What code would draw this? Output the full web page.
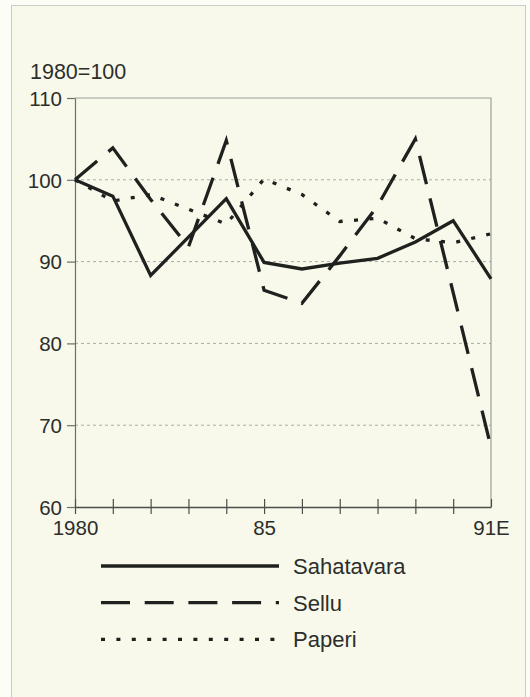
<!DOCTYPE html>
<html>
<head>
<meta charset="utf-8">
<script src="https://cdn.jsdelivr.net/npm/d3@7"></script>
<style>
  body { margin: 0; background: #fcfdf7; }
  svg { display: block; font-family: "Liberation Sans", Arial, sans-serif; }
  .tick text { fill: #2c2e2c; }
</style>
</head>
<body>
<div id="chart"></div>
<script>
let years = [1980, 1981, 1982, 1983, 1984, 1985, 1986, 1987, 1988, 1989, 1990, 1991];
let sahatavara = [100, 98.0, 88.3, 93.0, 97.7, 89.9, 89.1, 89.8, 90.4, 92.4, 95.0, 87.9];
let sellu = [100, 103.9, 97.6, 91.8, 104.8, 86.5, 84.9, 90.7, 96.8, 105.0, 86.2, 67.3];
let paperi = [100, 97.4, 98.2, 96.4, 94.6, 100.1, 98.2, 94.9, 95.3, 92.8, 92.3, 93.4];
let yTicks = [60, 70, 80, 90, 100, 110];
let xLabels = { 1980: "1980", 1985: "85", 1991: "91E" };
let seriesNames = ["Sahatavara", "Sellu", "Paperi"];

let width = 530, height = 697;
let margin = { left: 75, right: 39, top: 98, bottom: 190 };

let svg = d3
  .select("#chart")
  .append("svg")
  .attr("width", width)
  .attr("height", height);

// paper frame
svg
  .append("rect")
  .attr("x", 11.5)
  .attr("y", 5.5)
  .attr("width", 514)
  .attr("height", 700)
  .attr("fill", "#f8f9eb")
  .attr("stroke", "#c9cdc5");

let x = d3
  .scaleLinear()
  .domain([1980, 1991])
  .range([margin.left, width - margin.right]);
let y = d3
  .scaleLinear()
  .domain([60, 110])
  .range([height - margin.bottom, margin.top]);

// grid lines
svg
  .append("g")
  .selectAll("line")
  .data([70, 80, 90, 100])
  .join("line")
  .attr("x1", x(1980))
  .attr("x2", x(1991))
  .attr("y1", d => y(d))
  .attr("y2", d => y(d))
  .attr("stroke", "#a9ada6")
  .attr("stroke-width", 1)
  .attr("stroke-dasharray", "3,3");

// top and right frame of plot
svg
  .append("path")
  .attr("d", `M${x(1980)},${y(110)}H${x(1991)}V${y(60)}`)
  .attr("fill", "none")
  .attr("stroke", "#9aa09a")
  .attr("stroke-width", 1.2);

let yAxis = svg
  .append("g")
  .attr("transform", `translate(${x(1980)},0)`)
  .call(
    d3
      .axisLeft(y)
      .tickValues(yTicks)
      .tickSize(8)
      .tickSizeOuter(0)
      .tickPadding(5)
  );
yAxis.select(".domain").attr("stroke", "#6a6f6a").attr("stroke-width", 1.2);
yAxis.selectAll(".tick line").attr("stroke", "#6a6f6a").attr("stroke-width", 1.2);
yAxis.selectAll(".tick text").attr("font-size", "20.5px").attr("dy", "0.36em");

let xAxis = svg
  .append("g")
  .attr("transform", `translate(0,${y(60)})`)
  .call(
    d3
      .axisBottom(x)
      .tickValues(years)
      .tickSize(7)
      .tickSizeOuter(0)
      .tickPadding(6)
      .tickFormat(d => xLabels[d] || "")
  );
xAxis.select(".domain").attr("stroke", "#4a4f4a").attr("stroke-width", 1.5);
xAxis
  .selectAll(".tick line")
  .attr("y1", -8)
  .attr("y2", d => (d === 1991 ? 0 : 7))
  .attr("stroke", "#4a4f4a")
  .attr("stroke-width", 1.2);
xAxis.selectAll(".tick text").attr("font-size", "20.5px");

svg
  .append("text")
  .attr("x", 30)
  .attr("y", 79)
  .attr("font-size", "21.5px")
  .attr("fill", "#2c2e2c")
  .text("1980=100");

let dashes = ["none", "29,14.7", "4,11.4"];
let data = [sahatavara, sellu, paperi];

let line = d3
  .line()
  .x((d, i) => x(years[i]))
  .y(d => y(d));

svg
  .append("g")
  .selectAll("path")
  .data(data)
  .join("path")
  .attr("d", d => line(d))
  .attr("fill", "none")
  .attr("stroke", "#1f211f")
  .attr("stroke-width", 3.3)
  .attr("stroke-linejoin", "miter")
  .attr("stroke-dasharray", (d, i) => dashes[i]);

// legend
let legend = svg
  .append("g")
  .selectAll("g")
  .data(seriesNames)
  .join("g")
  .attr("transform", (d, i) => `translate(0,${566 + i * 36.7})`);

legend
  .append("line")
  .attr("x1", 101)
  .attr("x2", 279)
  .attr("stroke", "#1f211f")
  .attr("stroke-width", 3.3)
  .attr("stroke-dasharray", (d, i) => dashes[i]);

legend
  .append("text")
  .attr("x", 293)
  .attr("dy", "0.36em")
  .attr("font-size", "22px")
  .attr("fill", "#2c2e2c")
  .text(d => d);
</script>
</body>
</html>
